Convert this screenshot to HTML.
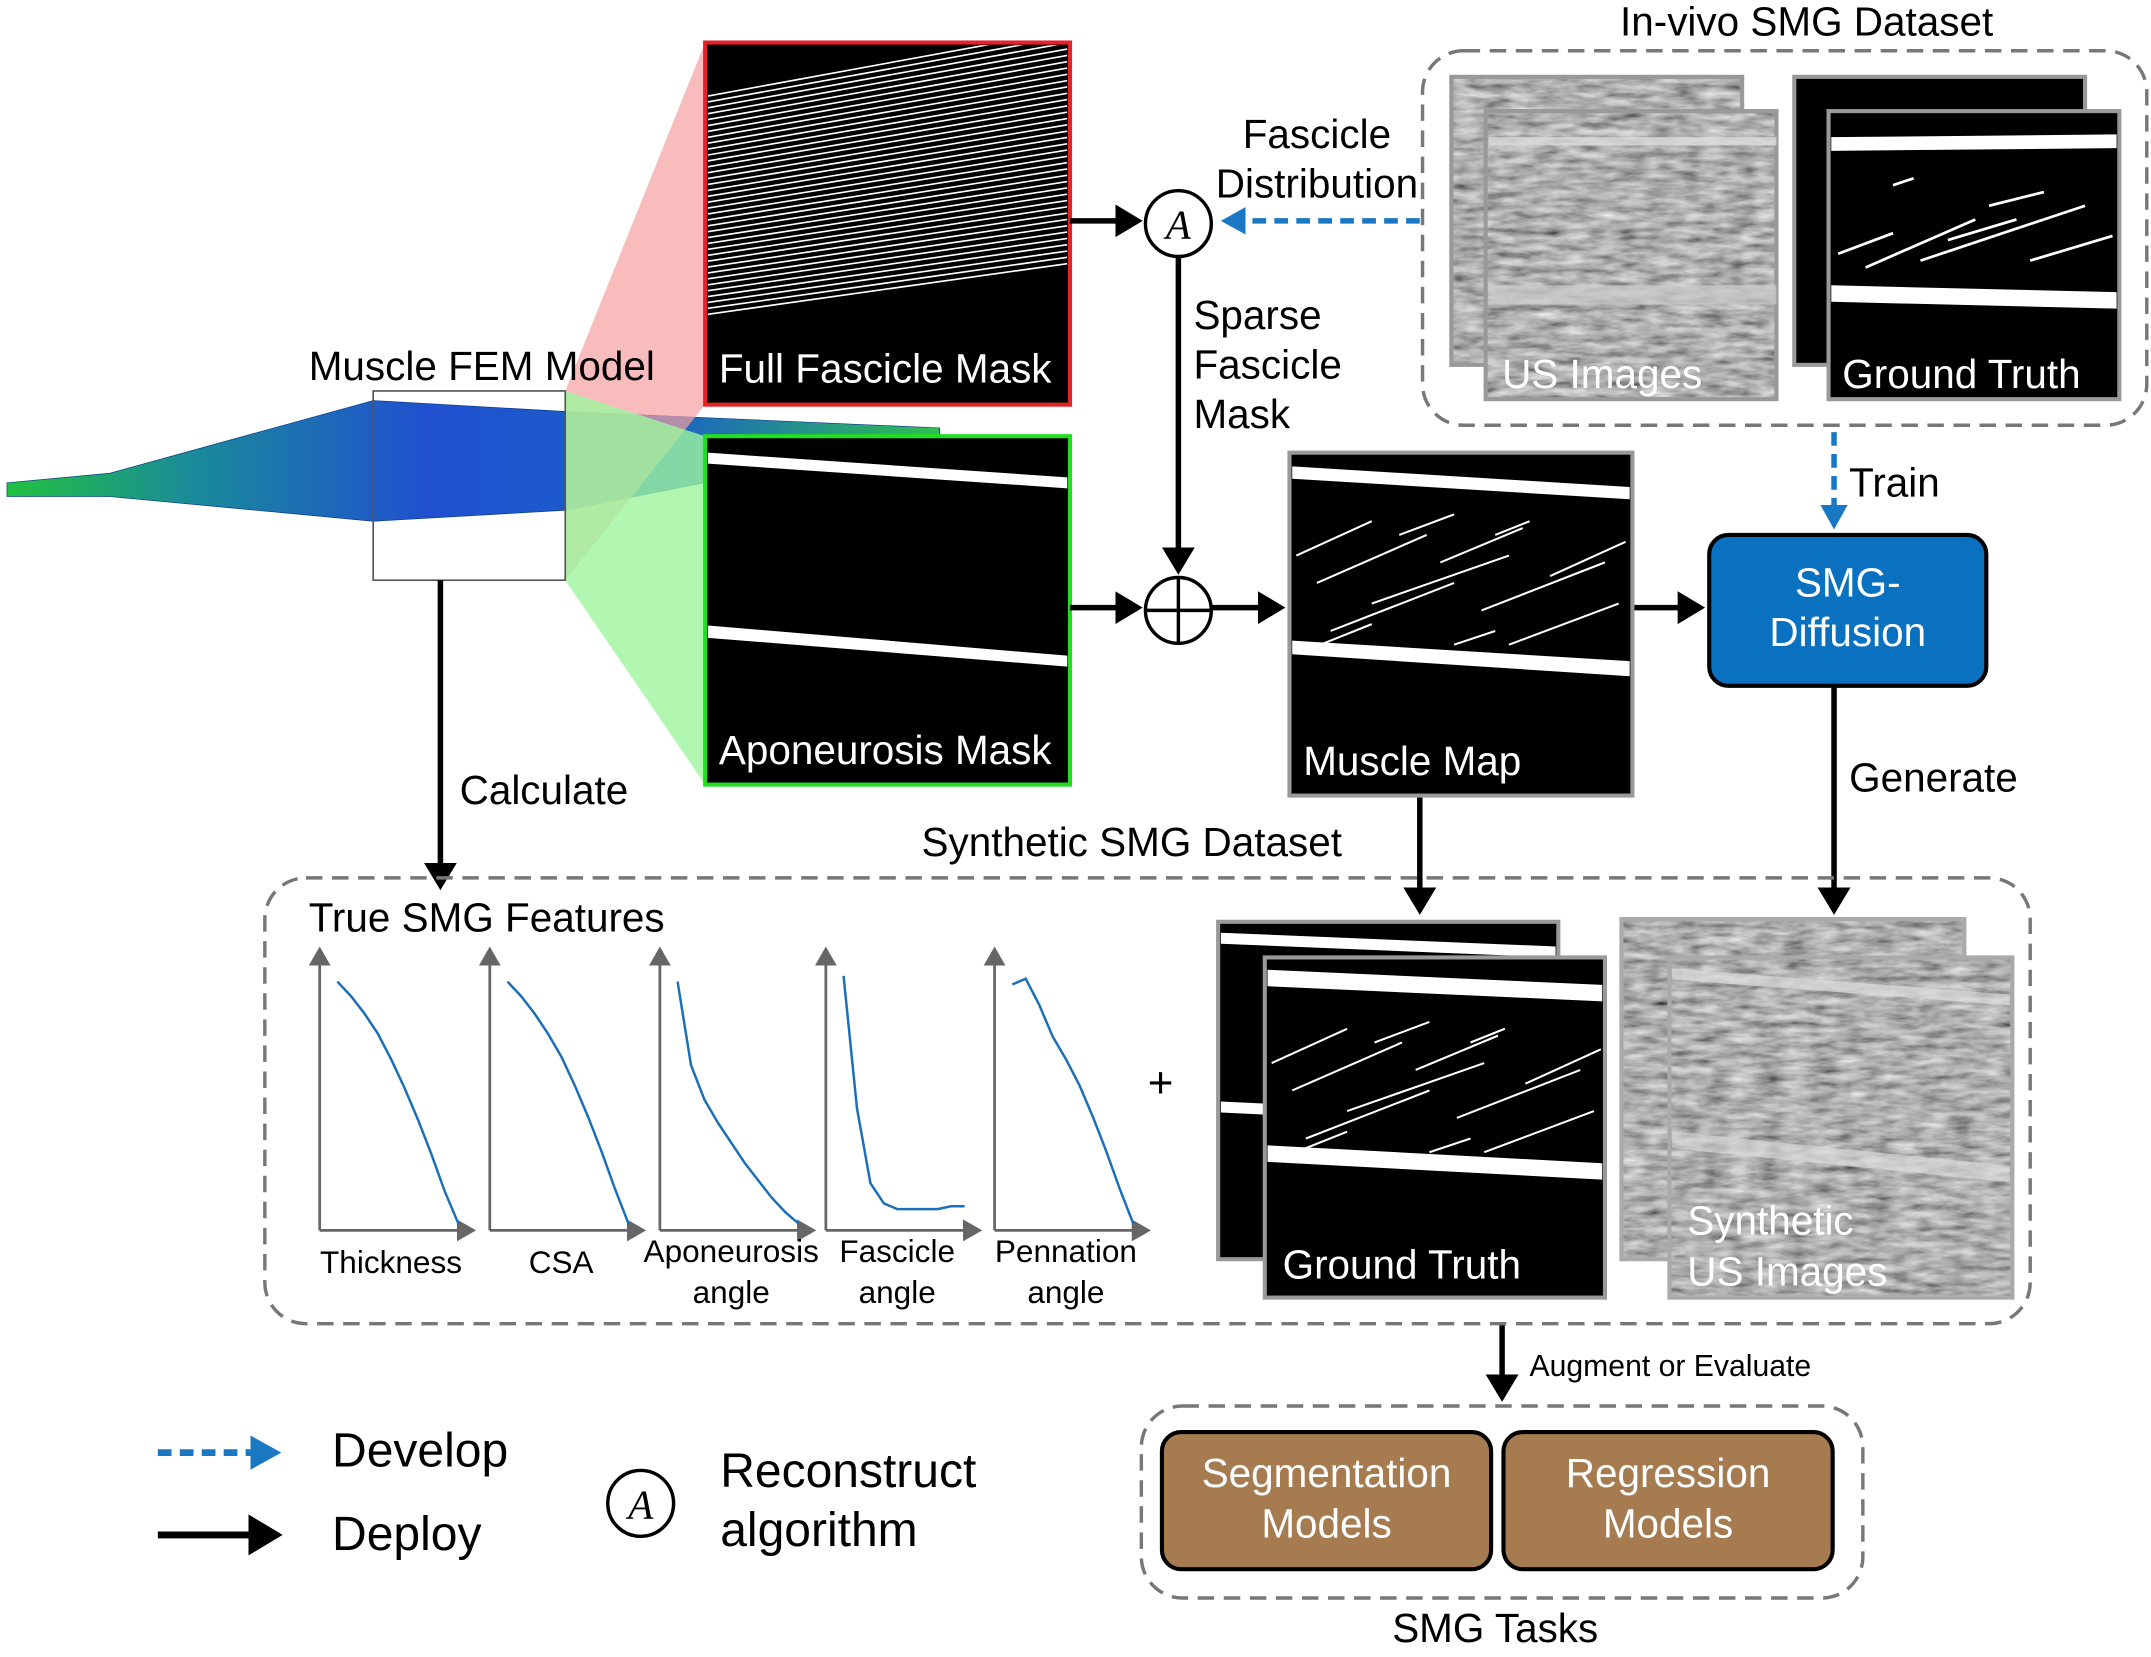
<!DOCTYPE html>
<html><head><meta charset="utf-8">
<style>
html,body{margin:0;padding:0;background:#fff;}
svg{display:block;font-family:"Liberation Sans",Arial,sans-serif;}
</style></head>
<body>
<svg id="fig" width="2151" height="1657" viewBox="0 0 1568 1208" xmlns="http://www.w3.org/2000/svg" font-size="29.5">
<defs>
<marker id="ab" markerWidth="6" markerHeight="6" refX="4" refY="3" orient="auto" markerUnits="strokeWidth"><path d="M0,0 L5,3 L0,6 Z" fill="#000"/></marker>
<marker id="ablue" markerWidth="5" markerHeight="5" refX="3.5" refY="2.5" orient="auto" markerUnits="strokeWidth"><path d="M0,0 L4.5,2.5 L0,5 Z" fill="#1a78c2"/></marker>
<marker id="agray" markerWidth="8" markerHeight="8" refX="6" refY="4" orient="auto" markerUnits="strokeWidth"><path d="M0,0 L7,4 L0,8 Z" fill="#666"/></marker>
<clipPath id="fclip"><rect x="516" y="33" width="262" height="260"/></clipPath>
<filter id="noise" x="0" y="0" width="100%" height="100%">
<feTurbulence type="fractalNoise" baseFrequency="0.05 0.18" numOctaves="3" seed="3"/>
<feColorMatrix type="saturate" values="0"/>
<feComponentTransfer><feFuncR type="linear" slope="1.1" intercept="-0.12"/><feFuncG type="linear" slope="1.1" intercept="-0.12"/><feFuncB type="linear" slope="1.1" intercept="-0.12"/><feFuncA type="linear" slope="0" intercept="1"/></feComponentTransfer>
</filter>
<linearGradient id="mesh" x1="0" x2="1" y1="0" y2="0">
<stop offset="0" stop-color="#22c040"/><stop offset="0.2" stop-color="#1a8a9a"/><stop offset="0.45" stop-color="#2050d0"/><stop offset="0.7" stop-color="#1a60c8"/><stop offset="1" stop-color="#30c050"/>
</linearGradient>
</defs>

<g>
<polygon points="5,352 80,345 272,292 412,300 685,312 685,318 412,372 272,380 80,362 5,362" fill="url(#mesh)" stroke="#0a3a8a" stroke-width="0.5"/>
<polygon points="412,285 514,31 514,295 412,423" fill="#f7a0a0" opacity="0.7"/>
<polygon points="412,285 514,318 514,572 412,423" fill="#9ef59e" opacity="0.8"/>
<rect x="272" y="285" width="140" height="138" fill="none" stroke="#555" stroke-width="1.2"/>
<text x="225" y="277">Muscle FEM Model</text>
</g>

<g>
<rect x="514" y="31" width="266" height="264" fill="#000" stroke="#e3232a" stroke-width="3"/>
<g id="fasc" stroke="#fff" stroke-width="1.2" clip-path="url(#fclip)"></g>
<text x="524" y="279" fill="#fff">Full Fascicle Mask</text>
</g>
<g>
<rect x="514" y="318" width="266" height="254" fill="#000" stroke="#22dd22" stroke-width="3"/>
<polygon points="516,330 778,348 778,356 516,338" fill="#fff"/>
<polygon points="516,456 778,478 778,486 516,465" fill="#fff"/>
<text x="524" y="557" fill="#fff">Aponeurosis Mask</text>
</g>

<g>
<circle cx="859" cy="163" r="24" fill="#fff" stroke="#000" stroke-width="2.5"/>
<text x="859" y="174" font-size="30" font-style="italic" font-family="Liberation Serif,serif" text-anchor="middle">A</text>
</g>
<g>
<circle cx="859" cy="445" r="24" fill="#fff" stroke="#000" stroke-width="2.5"/>
<line x1="835" y1="445" x2="883" y2="445" stroke="#000" stroke-width="2.5"/>
<line x1="859" y1="421" x2="859" y2="469" stroke="#000" stroke-width="2.5"/>
</g>
<g stroke="#000" stroke-width="4" fill="none">
<line x1="780" y1="161" x2="829" y2="161" marker-end="url(#ab)"/>
<line x1="859" y1="187" x2="859" y2="415" marker-end="url(#ab)"/>
<line x1="780" y1="443" x2="829" y2="443" marker-end="url(#ab)"/>
<line x1="883" y1="443" x2="933" y2="443" marker-end="url(#ab)"/>
<line x1="1190" y1="443" x2="1239" y2="443" marker-end="url(#ab)"/>
<line x1="1337" y1="500" x2="1337" y2="663" marker-end="url(#ab)"/>
<line x1="1035" y1="580" x2="1035" y2="663" marker-end="url(#ab)"/>
<line x1="321" y1="423" x2="321" y2="645" marker-end="url(#ab)"/>
<line x1="1095" y1="965" x2="1095" y2="1018" marker-end="url(#ab)"/>
</g>
<g stroke="#1a78c2" stroke-width="4" stroke-dasharray="10,6" fill="none">
<line x1="1035" y1="161" x2="894" y2="161" marker-end="url(#ablue)"/>
<line x1="1337" y1="315" x2="1337" y2="382" marker-end="url(#ablue)"/>
</g>
<text x="960" y="108" text-anchor="middle"><tspan x="960">Fascicle</tspan><tspan x="960" dy="36">Distribution</tspan></text>
<text x="870" y="240"><tspan x="870">Sparse</tspan><tspan x="870" dy="36">Fascicle</tspan><tspan x="870" dy="36">Mask</tspan></text>
<text x="335" y="586">Calculate</text>
<text x="1348" y="362">Train</text>
<text x="1348" y="577">Generate</text>

<g>
<rect x="1037" y="37" width="528" height="273" rx="30" fill="none" stroke="#777" stroke-width="2.5" stroke-dasharray="12,7"/>
<text x="1317" y="26" text-anchor="middle">In-vivo SMG Dataset</text>
<rect x="1058" y="56" width="212" height="210" filter="url(#noise)"/>
<rect x="1058" y="56" width="212" height="210" fill="none" stroke="#999" stroke-width="3"/>
<rect x="1083" y="81" width="212" height="210" filter="url(#noise)"/>
<rect x="1083" y="81" width="212" height="210" fill="none" stroke="#999" stroke-width="3"/>
<rect x="1085" y="100" width="210" height="6" fill="#ddd" opacity="0.8"/>
<rect x="1085" y="208" width="210" height="14" fill="#ccc" opacity="0.7"/>
<text x="1095" y="283" fill="#fff">US Images</text>
<rect x="1308" y="56" width="212" height="210" fill="#000" stroke="#999" stroke-width="3"/>
<rect x="1333" y="81" width="212" height="210" fill="#000" stroke="#999" stroke-width="3"/>
<polygon points="1335,100 1543,98 1543,108 1335,110" fill="#fff"/>
<polygon points="1335,208 1543,213 1543,225 1335,220" fill="#fff"/>
<g stroke="#fff" stroke-width="2"><line x1="1340" y1="185" x2="1380" y2="170"/><line x1="1360" y1="195" x2="1440" y2="160"/><line x1="1400" y1="190" x2="1520" y2="150"/><line x1="1450" y1="150" x2="1490" y2="140"/><line x1="1380" y1="135" x2="1395" y2="130"/><line x1="1420" y1="175" x2="1470" y2="160"/><line x1="1480" y1="190" x2="1540" y2="172"/></g>
<text x="1343" y="283" fill="#fff">Ground Truth</text>
</g>

<g>
<rect x="940" y="330" width="250" height="250" fill="#000" stroke="#999" stroke-width="3"/>
<polygon points="942,340 1188,355 1188,364 942,349" fill="#fff"/>
<polygon points="942,467 1188,482 1188,493 942,477" fill="#fff"/>
<g id="mmlines" stroke="#fff" stroke-width="1.5"></g>
<text x="950" y="565" fill="#fff">Muscle Map</text>
</g>

<g>
<rect x="1246" y="390" width="202" height="110" rx="14" fill="#0a70c0" stroke="#000" stroke-width="3"/>
<text x="1347" y="435" fill="#fff" text-anchor="middle">SMG-</text>
<text x="1347" y="471" fill="#fff" text-anchor="middle">Diffusion</text>
</g>

<g>
<rect x="193" y="640" width="1287" height="325" rx="30" fill="none" stroke="#777" stroke-width="2.5" stroke-dasharray="12,7"/>
<text x="825" y="624" text-anchor="middle">Synthetic SMG Dataset</text>
<text x="225" y="679">True SMG Features</text>
<text x="846" y="800" font-size="32" text-anchor="middle">+</text>
<rect x="888" y="672" width="248" height="246" fill="#000" stroke="#999" stroke-width="3"/>
<polygon points="890,680 1134,690 1134,698 890,688" fill="#fff"/>
<polygon points="890,803 1134,815 1134,823 890,811" fill="#fff"/>
<rect x="922" y="698" width="248" height="248" fill="#000" stroke="#999" stroke-width="3"/>
<polygon points="924,707 1168,718 1168,730 924,719" fill="#fff"/>
<polygon points="924,835 1168,848 1168,860 924,847" fill="#fff"/>
<g id="gtlines" stroke="#fff" stroke-width="1.5"></g>
<text x="935" y="932" fill="#fff">Ground Truth</text>
<rect x="1182" y="670" width="250" height="248" filter="url(#noise)"/>
<rect x="1182" y="670" width="250" height="248" fill="none" stroke="#aaa" stroke-width="3"/>
<rect x="1217" y="698" width="250" height="248" filter="url(#noise)"/>
<rect x="1217" y="698" width="250" height="248" fill="none" stroke="#aaa" stroke-width="3"/>
<polygon points="1219,706 1465,725 1465,733 1219,714" fill="#ddd" opacity="0.7"/>
<polygon points="1219,825 1465,850 1465,862 1219,837" fill="#ddd" opacity="0.6"/>
<text x="1230" y="900" fill="#fff">Synthetic</text>
<text x="1230" y="937" fill="#fff">US Images</text>
</g>
<g id="charts"></g>

<text x="1115" y="1003" font-size="22">Augment or Evaluate</text>
<g>
<rect x="832" y="1025" width="526" height="140" rx="30" fill="none" stroke="#777" stroke-width="2.5" stroke-dasharray="12,7"/>
<text x="1090" y="1197" text-anchor="middle">SMG Tasks</text>
</g>
<g>
<rect x="847" y="1044" width="240" height="100" rx="14" fill="#a57b4f" stroke="#000" stroke-width="3"/>
<text x="967" y="1084" fill="#fff" text-anchor="middle">Segmentation</text>
<text x="967" y="1121" fill="#fff" text-anchor="middle">Models</text>
</g>
<g>
<rect x="1096" y="1044" width="240" height="100" rx="14" fill="#a57b4f" stroke="#000" stroke-width="3"/>
<text x="1216" y="1084" fill="#fff" text-anchor="middle">Regression</text>
<text x="1216" y="1121" fill="#fff" text-anchor="middle">Models</text>
</g>

<g>
<line x1="115" y1="1059" x2="200" y2="1059" stroke="#1a78c2" stroke-width="5" stroke-dasharray="10,6" marker-end="url(#ablue)"/>
<text x="242" y="1069" font-size="35">Develop</text>
<line x1="115" y1="1119" x2="201" y2="1119" stroke="#000" stroke-width="5" marker-end="url(#ab)"/>
<text x="242" y="1130" font-size="35">Deploy</text>
<circle cx="467" cy="1096" r="24" fill="#fff" stroke="#000" stroke-width="2.5"/>
<text x="467" y="1107" font-size="30" font-style="italic" font-family="Liberation Serif,serif" text-anchor="middle">A</text>
<text x="525" y="1084" font-size="35">Reconstruct</text>
<text x="525" y="1127" font-size="35">algorithm</text>
</g>

<script>
const chartNames = ["Thickness","CSA","Aponeurosis angle","Fascicle angle","Pennation angle"];
const chartLabels = [["Thickness"],["CSA"],["Aponeurosis","angle"],["Fascicle","angle"],["Pennation","angle"]];
const xs = [0.05,0.15,0.25,0.35,0.45,0.55,0.65,0.75,0.85,0.95];
const thicknessVals = [0.84,0.79,0.73,0.66,0.57,0.47,0.36,0.24,0.11,0.0];
const csaVals = [0.84,0.79,0.73,0.66,0.58,0.48,0.37,0.25,0.12,0.0];
const aponVals = [0.84,0.55,0.43,0.35,0.28,0.21,0.15,0.09,0.04,0.0];
const fascVals = [0.86,0.40,0.14,0.07,0.05,0.05,0.05,0.05,0.06,0.06];
const pennVals = [0.83,0.85,0.76,0.65,0.57,0.48,0.37,0.25,0.12,0.0];
const series = [thicknessVals,csaVals,aponVals,fascVals,pennVals];
const origins = [233,357,481,602,725];
const NS="http://www.w3.org/2000/svg";
const charts=document.getElementById('charts');
const oy=897, W=112, H=210;
function sx(o,v){return o+8+v*(W-14);}
function sy(v){return oy-5-v*H;}
series.forEach((vals,i)=>{
  const o=origins[i];
  const g=document.createElementNS(NS,'g');
  
  
  const ax=document.createElementNS(NS,'line');
  
  
  ax.setAttribute('x1',o);ax.setAttribute('y1',oy);ax.setAttribute('x2',o+112);ax.setAttribute('y2',oy);
  ax.setAttribute('stroke','#666');ax.setAttribute('stroke-width','2');ax.setAttribute('marker-end','url(#agray)');
  g.appendChild(ax);
  const ay=document.createElementNS(NS,'line');
  
  
  ay.setAttribute('x1',o);ay.setAttribute('y1',oy);ay.setAttribute('x2',o);ay.setAttribute('y2',oy-205);
  ay.setAttribute('stroke','#666');ay.setAttribute('stroke-width','2');ay.setAttribute('marker-end','url(#agray)');
  g.appendChild(ay);
  const p=document.createElementNS(NS,'polyline');
  
  
  p.setAttribute('points',vals.map((v,j)=>sx(o,xs[j])+','+sy(v)).join(' '));
  p.setAttribute('fill','none');p.setAttribute('stroke','#1a6fb8');p.setAttribute('stroke-width','1.8');
  g.appendChild(p);
  chartLabels[i].forEach((t,k)=>{
    const tx=document.createElementNS(NS,'text');
    
    
    tx.setAttribute('x',o+52);
    tx.setAttribute('y', chartLabels[i].length===1 ? 928 : 920+k*30);
    tx.setAttribute('font-size','23');tx.setAttribute('text-anchor','middle');
    tx.textContent=t;g.appendChild(tx);
  });
  charts.appendChild(g);
});
const fg=document.getElementById('fasc');
for(let k=0;k<38;k++){
  const y0=40+k*4.3;
  const l=document.createElementNS(NS,'line');
  l.setAttribute('x1',516);l.setAttribute('y1',y0+30);l.setAttribute('x2',778);l.setAttribute('y2',y0-18+k*0.3);
  fg.appendChild(l);
}
function segs(id,x0,y0,list){
  const g=document.getElementById(id);
  list.forEach(s=>{const l=document.createElementNS(NS,'line');
    l.setAttribute('x1',x0+s[0]);l.setAttribute('y1',y0+s[1]);l.setAttribute('x2',x0+s[2]);l.setAttribute('y2',y0+s[3]);g.appendChild(l);});
}
const segList=[[5,55,60,30],[20,75,100,40],[60,90,160,55],[30,110,120,75],[110,60,170,35],[140,95,230,60],[160,120,240,90],[10,125,60,105],[80,40,120,25],[190,70,245,45],[150,40,175,30],[120,120,150,110]];
segs('mmlines',940,350,segList);
segs('gtlines',922,720,segList);
</script>
</svg>
</body></html>
